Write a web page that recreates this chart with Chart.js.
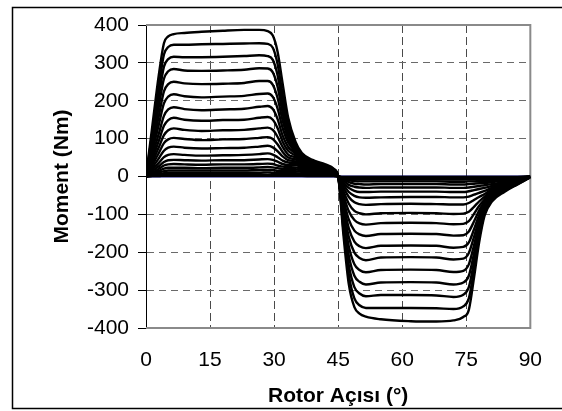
<!DOCTYPE html>
<html lang="tr">
<head>
  <meta charset="UTF-8">
  <title>Moment - Rotor Açısı</title>
  <script src="https://cdn.jsdelivr.net/npm/chart.js"></script>
  <style>
    body {
      margin: 0;
      background: #fff;
    }

    canvas {
      display: block;
    }
  </style>
</head>

<body>
  <canvas id="momentChart" width="562" height="411"></canvas>

  <script>
    // Rotor açısı (derece) - tüm eğriler için ortak noktalar
    const angle = [0, 1.5, 3, 4.2, 5.2, 6.5, 9, 13, 18, 23, 26.5, 28.5, 29.7, 30.8, 32, 33.3, 35, 36.5, 39, 42, 44, 45,
      46.2, 47.5, 48.8, 50, 51.5, 55, 62, 68, 72, 74.3, 75.6, 76.8, 78, 79.3, 81, 84, 87, 90];

    // Her akım değeri için moment (Nm)
    const m1 = [0, 135, 268, 352, 370, 376, 379, 382, 385, 387, 387, 384, 372, 330, 245, 155, 92, 62, 44, 32, 20, 0,
      -150, -285, -345, -362, -370, -377, -382, -383, -380, -371, -352, -268, -175, -103, -66, -40, -21, -2];
    const m2 = [0, 118, 236, 322, 342, 348, 348, 349, 350, 351, 352, 350, 340, 298, 215, 137, 86, 58, 42, 30, 19, 0,
      -136, -260, -322, -340, -347, -347, -347, -348, -350, -343, -322, -248, -163, -97, -62, -38, -20, -2];
    const m3 = [0, 105, 210, 290, 310, 316, 315, 315, 316, 318, 320, 318, 308, 268, 190, 122, 80, 55, 40, 29, 18, 0,
      -122, -235, -292, -309, -316, -313, -313, -314, -318, -312, -292, -226, -150, -92, -59, -36, -19, -2];
    const m4 = [0, 92, 185, 258, 278, 284, 280, 279, 280, 282, 286, 285, 275, 238, 168, 110, 75, 52, 38, 28, 17, 0,
      -109, -210, -262, -278, -285, -280, -279, -280, -285, -280, -262, -204, -138, -87, -56, -34, -18, -2];
    const m5 = [0, 80, 160, 225, 244, 250, 246, 244, 245, 247, 252, 252, 242, 208, 148, 100, 70, 49, 36, 26, 16, 0,
      -96, -185, -232, -247, -253, -247, -246, -247, -252, -249, -232, -182, -126, -82, -53, -32, -17, -1];
    const m6 = [0, 68, 137, 193, 211, 217, 212, 209, 211, 213, 218, 219, 210, 180, 128, 90, 65, 46, 34, 25, 15, 0,
      -83, -160, -201, -215, -221, -214, -213, -214, -219, -217, -202, -160, -114, -77, -50, -30, -16, -1];
    const m7 = [0, 56, 113, 160, 177, 183, 178, 175, 177, 179, 184, 186, 178, 152, 108, 78, 60, 43, 32, 23, 14, 0,
      -71, -137, -172, -184, -189, -183, -182, -183, -188, -186, -174, -140, -102, -72, -47, -28, -15, -1];
    const m8 = [0, 47, 94, 134, 149, 155, 150, 147, 149, 150, 155, 157, 150, 128, 92, 68, 55, 40, 30, 22, 13, 0,
      -59, -114, -143, -153, -157, -152, -151, -152, -156, -155, -145, -119, -90, -66, -44, -26, -14, -1];
    const m9 = [0, 38, 77, 109, 122, 127, 123, 120, 122, 123, 127, 129, 123, 105, 78, 58, 50, 37, 28, 20, 12, 0,
      -48, -92, -115, -124, -127, -123, -122, -123, -126, -125, -118, -99, -78, -60, -41, -24, -13, -1];
    const m10 = [0, 31, 62, 88, 98, 102, 99, 96, 98, 99, 102, 104, 99, 85, 65, 50, 45, 34, 26, 19, 11, 0,
      -38, -72, -91, -97, -100, -97, -96, -97, -99, -98, -93, -80, -66, -53, -38, -22, -12, -1];
    const m11 = [0, 24, 48, 68, 76, 79, 76, 74, 75, 76, 79, 81, 77, 67, 53, 43, 40, 31, 24, 17, 10, 0,
      -28, -54, -68, -73, -75, -73, -72, -73, -74, -74, -70, -62, -54, -46, -34, -20, -11, -1];
    const m12 = [0, 18, 36, 51, 57, 59, 57, 55, 56, 57, 59, 61, 58, 51, 42, 37, 35, 28, 21, 15, 9, 0,
      -21, -41, -51, -55, -56, -55, -54, -54, -55, -55, -53, -48, -43, -38, -30, -18, -10, -1];
    const m13 = [0, 14, 27, 38, 43, 44, 43, 42, 43, 43, 45, 46, 44, 39, 33, 30, 30, 24, 18, 13, 8, 0,
      -16, -30, -38, -41, -41, -40, -40, -40, -41, -41, -39, -36, -33, -30, -25, -16, -9, -1];
    const m14 = [0, 10, 20, 29, 32, 33, 32, 31, 32, 32, 33, 34, 33, 29, 26, 25, 24, 20, 15, 11, 7, 0,
      -11, -22, -27, -29, -30, -29, -29, -29, -30, -30, -29, -27, -25, -23, -20, -14, -8, -1];
    const m15 = [0, 7, 14, 21, 23, 23, 23, 22, 23, 23, 24, 25, 24, 22, 20, 20, 19, 16, 12, 9, 5, 0,
      -8, -15, -19, -20, -21, -20, -20, -20, -21, -21, -20, -19, -18, -17, -15, -11, -6, 0];
    const m16 = [0, 5, 10, 14, 16, 16, 16, 16, 16, 16, 17, 17, 17, 15, 14, 14, 14, 12, 9, 7, 4, 0,
      -5, -10, -12, -13, -13, -13, -13, -13, -14, -14, -13, -13, -12, -12, -11, -8, -5, 0];
    const m17 = [0, 3, 6, 9, 10, 10, 10, 10, 10, 10, 10, 11, 10, 10, 9, 9, 9, 8, 6, 5, 3, 0,
      -3, -6, -8, -8, -8, -8, -8, -8, -8, -8, -8, -8, -8, -8, -7, -5, -3, 0];
    const m18 = [0, 2, 3, 4, 5, 5, 5, 5, 5, 5, 5, 5, 5, 5, 5, 5, 5, 4, 3, 3, 2, 0,
      -2, -3, -4, -4, -4, -4, -4, -4, -4, -4, -4, -4, -4, -4, -4, -3, -2, 0];
    const m19 = [0, 1, 1, 2, 2, 2, 2, 2, 2, 2, 2, 2, 2, 2, 2, 2, 2, 2, 1, 1, 1, 0,
      -1, -1, -1, -1, -1, -1, -1, -1, -1, -1, -1, -1, -1, -1, -1, -1, -1, 0];

    // Sıfır akım eğrisi
    const zeroAngle = [0, 90];
    const zeroMoment = [0, 0];

    const xTicks = [0, 15, 30, 45, 60, 75, 90];
    const yTicks = [-400, -300, -200, -100, 0, 100, 200, 300, 400];

    const curves = [m1, m2, m3, m4, m5, m6, m7, m8, m9, m10, m11, m12, m13, m14, m15, m16, m17, m18, m19];

    const toPoints = (xs, ys) => xs.map((x, i) => ({ x: x, y: ys[i] }));

    const datasets = curves.map(m => ({
      data: toPoints(angle, m),
      borderColor: '#000',
      borderWidth: 2.4,
      pointRadius: 0,
      cubicInterpolationMode: 'monotone'
    }));

    // mavi sıfır çizgisi en altta kalsın
    datasets.push({
      data: toPoints(zeroAngle, zeroMoment),
      borderColor: '#000080',
      borderWidth: 2,
      pointRadius: 0
    });

    // arka plan, dış çerçeve ve gri çizim alanı kenarlığı
    const frame = {
      id: 'frame',
      beforeDraw(chart) {
        const ctx = chart.ctx;
        ctx.save();
        ctx.fillStyle = '#fff';
        ctx.fillRect(0, 0, chart.width, chart.height);
        ctx.strokeStyle = '#000';
        ctx.lineWidth = 1.5;
        ctx.strokeRect(12.5, 7.5, 600, 401);
        ctx.restore();
      },
      beforeDatasetsDraw(chart) {
        const { ctx, chartArea: a } = chart;
        ctx.save();
        ctx.strokeStyle = '#8a8a8a';
        ctx.lineWidth = 2;
        ctx.beginPath();
        ctx.moveTo(a.left, a.top);
        ctx.lineTo(a.right, a.top);
        ctx.lineTo(a.right, a.bottom);
        ctx.lineTo(a.left, a.bottom);
        ctx.stroke();
        ctx.restore();
      }
    };

    Chart.defaults.font.family = "'Liberation Sans', Arial, sans-serif";
    Chart.defaults.color = '#000';

    new Chart(document.getElementById('momentChart'), {
      type: 'line',
      data: { datasets: datasets },
      plugins: [frame],
      options: {
        responsive: false,
        animation: false,
        events: [],
        layout: { padding: { left: 12, top: 25, right: 30, bottom: 0 } },
        plugins: {
          legend: { display: false },
          tooltip: { enabled: false }
        },
        scales: {
          x: {
            type: 'linear',
            min: 0,
            max: 90,
            afterBuildTicks: s => { s.ticks = xTicks.map(v => ({ value: v })); },
            afterFit: s => { s.height = 83; },
            ticks: { font: { size: 21 }, padding: 20, maxRotation: 0 },
            grid: {
              drawTicks: false,
              lineWidth: 1,
              color: c => (c.tick && (c.tick.value === 0 || c.tick.value === 90)) ? 'rgba(0,0,0,0)' : '#4a4a4a'
            },
            border: { display: false, dash: [8, 4] },
            title: {
              display: true,
              text: 'Rotor Açısı (°)',
              font: { size: 21, weight: 'bold' },
              padding: { top: 0, bottom: 2 }
            }
          },
          y: {
            min: -400,
            max: 400,
            afterBuildTicks: s => { s.ticks = yTicks.map(v => ({ value: v })); },
            afterFit: s => { s.width = 134; },
            ticks: { font: { size: 21 }, padding: 9 },
            grid: {
              drawTicks: true,
              tickLength: 8,
              tickColor: '#000',
              tickWidth: 1,
              tickBorderDash: [],
              lineWidth: 1,
              color: c => (c.tick && Math.abs(c.tick.value) === 400) ? 'rgba(0,0,0,0)' : '#6a6a6a'
            },
            border: { display: true, color: '#000', width: 1, dash: [7, 5] },
            title: {
              display: true,
              text: 'Moment (Nm)',
              font: { size: 21, weight: 'bold' },
              padding: { top: 38, bottom: 0 }
            }
          }
        }
      }
    });
  </script>
</body>

</html>
